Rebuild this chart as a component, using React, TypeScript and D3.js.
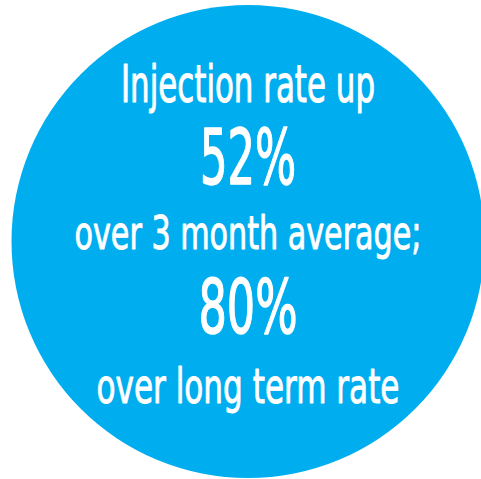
import { useRef, useEffect } from 'react';
import { select } from 'd3';

const Settings = {
  width: 481,
  height: 479,
  cx: 248,
  cy: 241.5,
  r: 236.5,
  fill: '#00aeef',
  font: "'Liberation Sans Narrow', 'DejaVu Sans Condensed', 'Roboto', sans-serif",
};

// the two headline numbers and the text around them
const metrics = ['Injection rate up', 'over 3 month average;', 'over long term rate'];
const percents = [52, 80];

// one row per line of text: [text, baseline y, font size, target width, extra stroke]
const lines: [string, number, number, number, number][] = [
  [metrics[0], 102, 51, 254, 1],
  [`${percents[0]}%`, 184, 76, 96, 1.4],
  [metrics[1], 249, 46, 347, 0.9],
  [`${percents[1]}%`, 333, 74, 99, 1.4],
  [metrics[2], 403, 48, 303, 0.9],
];

export default function App() {
  const svgRef = useRef<SVGSVGElement>(null);

  useEffect(() => {
    const svg = select(svgRef.current);
    svg.selectAll('*').remove();

    svg.append('circle')
      .attr('cx', Settings.cx)
      .attr('cy', Settings.cy)
      .attr('r', Settings.r)
      .attr('fill', Settings.fill);

    // thin white stroke thickens the condensed glyphs to match the poster font
    svg.selectAll('text.line')
      .data(lines)
      .join('text')
      .attr('class', 'line')
      .attr('x', Settings.cx)
      .attr('y', d => d[1])
      .attr('text-anchor', 'middle')
      .attr('font-family', Settings.font)
      .attr('font-size', d => d[2])
      .attr('textLength', d => d[3])
      .attr('lengthAdjust', 'spacingAndGlyphs')
      .attr('fill', '#fff')
      .attr('stroke', '#fff')
      .attr('stroke-width', d => d[4])
      .attr('stroke-linejoin', 'round')
      .text(d => d[0]);
  }, []);

  return (
    <svg
      ref={svgRef}
      width={Settings.width}
      height={Settings.height}
      style={{ position: 'absolute', left: 0, top: 0, background: '#fff' }}
    />
  );
}
